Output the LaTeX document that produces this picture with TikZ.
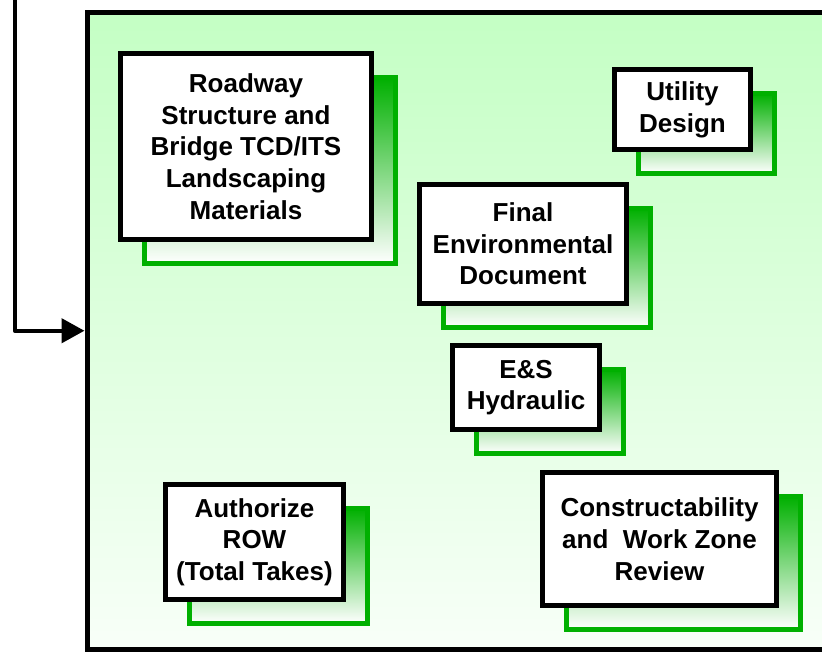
\documentclass[tikz,border=0pt]{standalone}
\usepackage{fontspec}
\setmainfont{Liberation Sans}
\usetikzlibrary{arrows.meta}
\usetikzlibrary{shadows}
\definecolor{leafgreen}{RGB}{0,176,0}
\definecolor{paletop}{RGB}{196,255,196}
\definecolor{palebottom}{RGB}{248,255,248}
\tikzset{task/.style={draw,line width=5pt,fill=white,align=center,inner sep=0pt,
    font=\fontsize{26}{31.7}\selectfont\bfseries,
    drop shadow={opacity=1,draw=leafgreen,line width=4.5pt,top color=leafgreen,bottom color=white,shadow xshift=24pt,shadow yshift=-24pt}}}

\begin{document}
\begin{tikzpicture}[x=1pt,y=-1pt]
\useasboundingbox (0,0) rectangle (822,651);
% green panel, runs off the right edge
\node (panel) at (463.5,330.75) [draw,line width=5pt,top color=paletop,bottom color=palebottom,minimum width=753pt,minimum height=636.5pt,inner sep=0pt] {};
\coordinate (feed) at (15,-5);
\draw[line width=4.5pt,line join=round,-{Triangle[length=23pt,width=24pt]}] (feed) |- (panel.west);
\node (roadway) at (246,146.5) [task,minimum width=251pt,minimum height=186pt] {Roadway\\Structure and\\Bridge TCD/ITS\\Landscaping\\Materials};
\node (utility) at (682.5,109.5) [task,minimum width=136pt,minimum height=80pt] {Utility\\Design};
\node (environ) at (523,244) [task,minimum width=207pt,minimum height=119pt] {Final\\Environmental\\Document};
\node (hydraulic) at (526,387.5) [task,minimum width=147pt,minimum height=84pt] {E\&S\\Hydraulic};
\node (row) at (254.5,542) [task,minimum width=178pt,minimum height=115pt] {Authorize\\ROW\\(Total Takes)};
\node (review) at (659.5,539) [task,minimum width=234pt,minimum height=133pt] {Constructability\\and\ \ Work Zone\\Review};
\end{tikzpicture}
\end{document}
